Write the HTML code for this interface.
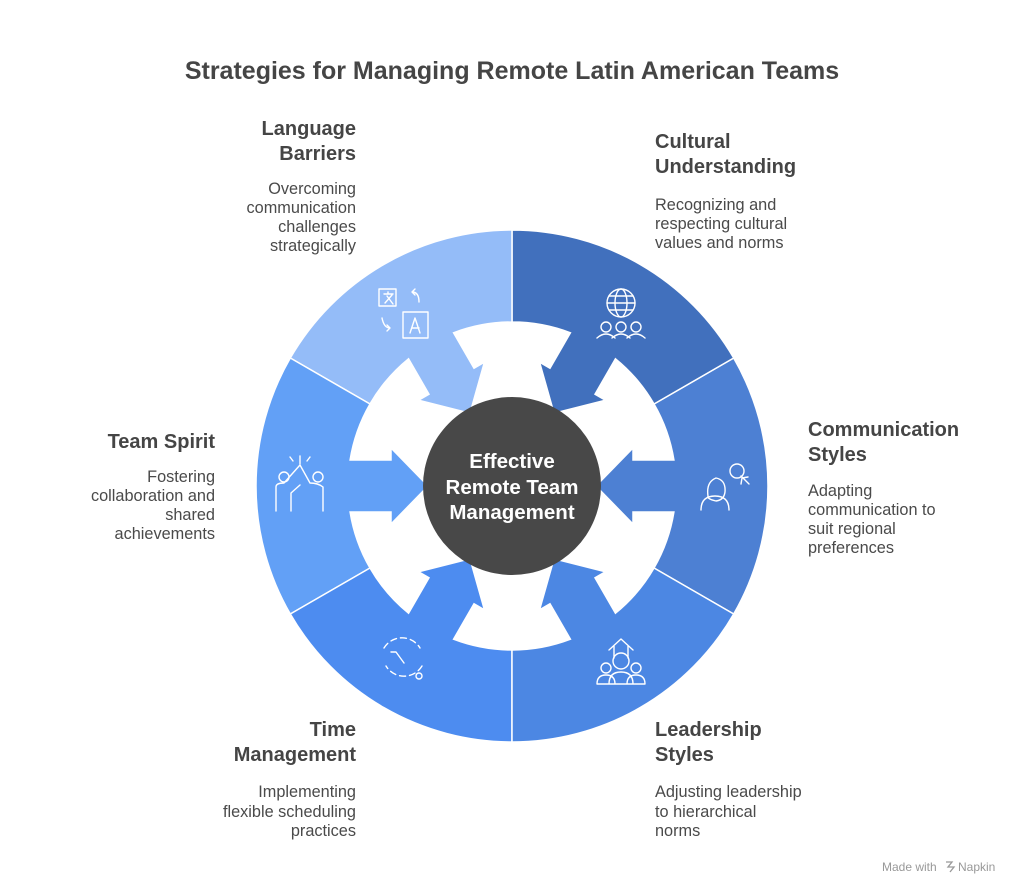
<!DOCTYPE html>
<html><head><meta charset="utf-8"><style>
html,body{margin:0;padding:0;background:#fff;}
svg{display:block;font-family:"Liberation Sans",sans-serif;}
.t{font-weight:bold;font-size:20px;fill:#454545;}
.d{font-size:16.3px;fill:#4a4a4a;}
.ic{fill:none;stroke:#fff;stroke-width:1.4;stroke-linecap:round;stroke-linejoin:round;}
</style></head><body>
<svg width="1024" height="896" viewBox="0 0 1024 896">
<defs>
<path id="seg" d="M221.7,-128 A256,256 0 0 1 221.7,128 L142,82 A164,164 0 0 0 161.9,26 L121,26 L121,38 L84,0 L121,-38 L121,-26 L161.9,-26 A164,164 0 0 0 142,-82 Z" stroke="#fff" stroke-width="1.5"/>
</defs>
<text x="512" y="79" text-anchor="middle" style="font-weight:bold;font-size:25px;fill:#454545">Strategies for Managing Remote Latin American Teams</text>
<g transform="translate(512,486)">
<use href="#seg" fill="#4d80d3"/>
<use href="#seg" fill="#4170bd" transform="rotate(-60)"/>
<use href="#seg" fill="#94bcf8" transform="rotate(-120)"/>
<use href="#seg" fill="#62a0f6" transform="rotate(180)"/>
<use href="#seg" fill="#4d8cf0" transform="rotate(120)"/>
<use href="#seg" fill="#4c87e3" transform="rotate(60)"/>
<circle r="89" fill="#484848"/>
</g>
<g text-anchor="middle" style="font-weight:bold;font-size:20.5px;fill:#fff">
<text x="512" y="468">Effective</text>
<text x="512" y="494">Remote Team</text>
<text x="512" y="519">Management</text>
</g>
<g class="ic">
<circle cx="621" cy="303" r="14"/><ellipse cx="621" cy="303" rx="6" ry="14"/><line x1="607" y1="303" x2="635" y2="303"/><line x1="609" y1="296" x2="633" y2="296"/><line x1="609" y1="310" x2="633" y2="310"/>
<circle cx="606" cy="327" r="5"/><circle cx="621" cy="327" r="5"/><circle cx="636" cy="327" r="5"/>
<path d="M597,338 q9,-8 18,0 M612,338 q9,-8 18,0 M627,338 q9,-8 18,0"/>
<rect x="379" y="289" width="17" height="17"/><rect x="403" y="312" width="25" height="26"/>
<path d="M384,294 h9 M388,292 v2 M385,303 l7,-8 M387,296 l6,8"/><path d="M410,333 l5,-15 5,15 M412,328 h7"/>
<path d="M419,302 q0,-10 -7,-10 l3,-3 M412,292 l3,3"/><path d="M382,318 q2,10 8,10 l-3,3 M390,328 l-3,-3"/>
<path d="M701,510 q0,-14 14,-14 q14,0 14,14 M708,496 q-2,-14 8,-18 q10,2 9,14 q-1,8 -9,9 q-9,-2 -8,-5"/>
<circle cx="737" cy="471" r="7"/><path d="M741,476 l8,8 M742,478 l6,-1 M742,478 l-1,6"/>
<path d="M609,650 l12,-11 12,11 M614,646 v12 M628,646 v12"/><circle cx="621" cy="661" r="8"/><circle cx="606" cy="668" r="5"/><circle cx="636" cy="668" r="5"/>
<path d="M597,684 q0,-9 9,-9 q9,0 9,9 M609,684 q0,-12 12,-12 q12,0 12,12 M627,684 q0,-9 9,-9 q9,0 9,9 M597,684 h48"/>
<path d="M384,648 a21,21 0 0 1 36,0 M422,666 a21,21 0 0 1 -36,0" stroke-dasharray="6 4"/><path d="M391,652 l5,0 8,11"/><circle cx="419" cy="676" r="3"/>
<circle cx="284" cy="477" r="5"/><circle cx="318" cy="477" r="5"/>
<path d="M276,511 v-24 q0,-4 8,-4 l16,-18 l10,18 q8,0 13,4 v24 M291,511 v-18 l9,-8 M300,464 v-8 M293,461 l-3,-4 M307,461 l3,-4"/>
</g>
<g text-anchor="end">
<text class="t" x="356" y="135">Language</text><text class="t" x="356" y="160">Barriers</text>
<text class="d" x="356" y="194">Overcoming</text><text class="d" x="356" y="213">communication</text><text class="d" x="356" y="232">challenges</text><text class="d" x="356" y="251">strategically</text>
<text class="t" x="215" y="448">Team Spirit</text>
<text class="d" x="215" y="482">Fostering</text><text class="d" x="215" y="501">collaboration and</text><text class="d" x="215" y="520">shared</text><text class="d" x="215" y="539">achievements</text>
<text class="t" x="356" y="736">Time</text><text class="t" x="356" y="761">Management</text>
<text class="d" x="356" y="797">Implementing</text><text class="d" x="356" y="817">flexible scheduling</text><text class="d" x="356" y="836">practices</text>
</g>
<g>
<text class="t" x="655" y="148">Cultural</text><text class="t" x="655" y="173">Understanding</text>
<text class="d" x="655" y="210">Recognizing and</text><text class="d" x="655" y="229">respecting cultural</text><text class="d" x="655" y="248">values and norms</text>
<text class="t" x="808" y="436">Communication</text><text class="t" x="808" y="461">Styles</text>
<text class="d" x="808" y="496">Adapting</text><text class="d" x="808" y="515">communication to</text><text class="d" x="808" y="534">suit regional</text><text class="d" x="808" y="553">preferences</text>
<text class="t" x="655" y="736">Leadership</text><text class="t" x="655" y="761">Styles</text>
<text class="d" x="655" y="797">Adjusting leadership</text><text class="d" x="655" y="817">to hierarchical</text><text class="d" x="655" y="836">norms</text>
</g>
<text x="882" y="871" style="font-size:12px;fill:#999">Made with</text>
<path d="M946,862 l6,0 -4,5 6,0 -4,5" fill="none" stroke="#999" stroke-width="1.3"/>
<text x="958" y="871" style="font-size:12px;fill:#999">Napkin</text>
</svg>
</body></html>
